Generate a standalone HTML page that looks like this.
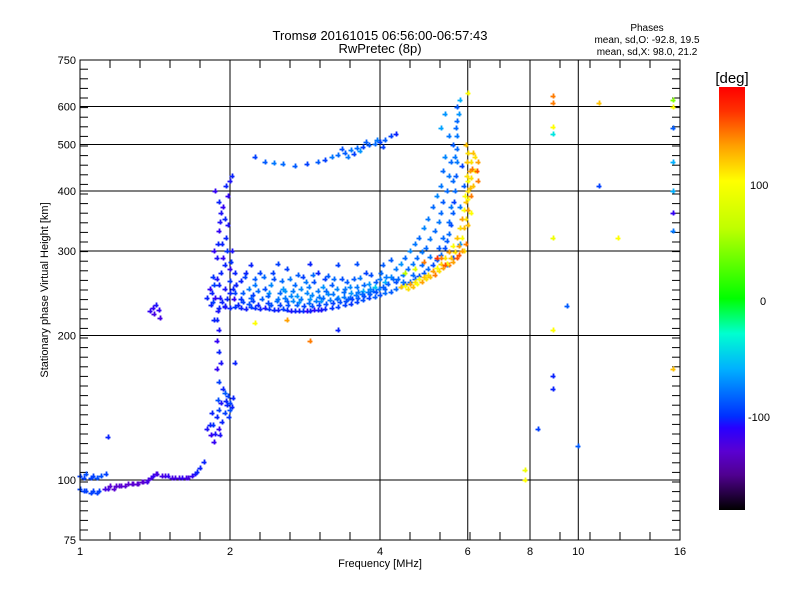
<!DOCTYPE html>
<html><head><meta charset="utf-8"><style>
html,body{margin:0;padding:0;background:#fff}
svg text{font-family:"Liberation Sans",sans-serif;fill:#000}
</style></head><body>
<svg id="chart" width="800" height="600" viewBox="0 0 800 600" xmlns="http://www.w3.org/2000/svg">
<defs>
<linearGradient id="cbar" x1="0" y1="1" x2="0" y2="0">
<stop offset="0" stop-color="#000000"/><stop offset="0.083" stop-color="#500090"/><stop offset="0.139" stop-color="#5a00d2"/><stop offset="0.194" stop-color="#2800ff"/><stop offset="0.222" stop-color="#0030ff"/><stop offset="0.333" stop-color="#00b0ff"/><stop offset="0.417" stop-color="#00ffd0"/><stop offset="0.5" stop-color="#00ff00"/><stop offset="0.667" stop-color="#c0ff00"/><stop offset="0.778" stop-color="#ffff00"/><stop offset="0.861" stop-color="#ffa000"/><stop offset="0.944" stop-color="#ff3000"/><stop offset="1" stop-color="#ff0000"/>
</linearGradient>
</defs>
<g id="grid"></g>
<g id="ticks"></g>
<g id="marks"></g>
<rect x="80" y="60" width="600" height="480" fill="none" stroke="#000" stroke-width="1"/>
<g id="labels"></g>
<text x="380" y="40" font-size="13" text-anchor="middle">Tromsø 20161015 06:56:00-06:57:43</text>
<text x="380" y="53" font-size="13" text-anchor="middle">RwPretec (8p)</text>
<text x="647" y="31" font-size="10" text-anchor="middle">Phases</text>
<text x="647" y="43" font-size="10" text-anchor="middle">mean, sd,O: -92.8, 19.5</text>
<text x="647" y="55" font-size="10" text-anchor="middle">mean, sd,X:  98.0, 21.2</text>
<text x="380" y="567" font-size="11" text-anchor="middle">Frequency [MHz]</text>
<text x="48" y="290" font-size="11" text-anchor="middle" transform="rotate(-90 48 290)">Stationary phase Virtual Height [km]</text>
<rect x="719" y="87" width="26" height="423" fill="url(#cbar)"/>
<text x="732" y="83" font-size="15" text-anchor="middle">[deg]</text>
<text x="750" y="189" font-size="11">100</text>
<text x="760" y="305" font-size="11">0</text>
<text x="748" y="421" font-size="11">-100</text>
</svg>
<script>
const xTicks = [1, 2, 4, 6, 8, 10, 16];
const xGrid = [2, 4, 6, 8, 10];
const yTicks = [75, 100, 200, 300, 400, 500, 600, 750];
const yGrid = [100, 200, 300, 400, 500, 600];
const eLayer = [[1.0,102,-100],[1.02,101,-100],[1.03,103,-95],[1.05,101,-100],[1.06,102,-100],[1.08,101,-95],[1.1,102,-95],[1.13,103,-100],[1.0,96,-100],[1.02,95,-100],[1.03,95,-100],[1.05,94,-100],[1.06,95,-100],[1.08,94,-100],[1.09,95,-100],[1.12,96,-125],[1.14,96,-125],[1.15,97,-130],[1.17,96,-130],[1.18,97,-130],[1.2,97,-130],[1.21,97,-130],[1.23,97,-130],[1.25,98,-130],[1.27,98,-130],[1.28,98,-130],[1.3,98,-130],[1.31,98,-130],[1.33,99,-130],[1.34,99,-130],[1.36,99,-125],[1.37,100,-125],[1.39,101,-125],[1.4,102,-120],[1.42,103,-125],[1.43,103,-125],[1.46,102,-125],[1.48,102,-125],[1.5,102,-120],[1.53,101,-125],[1.55,101,-125],[1.58,101,-125],[1.6,101,-120],[1.63,101,-125],[1.65,101,-125],[1.68,102,-120],[1.7,103,-115],[1.72,104,-110],[1.74,106,-110],[1.77,109,-110],[1.14,123,-110]];
const lowCluster = [[1.85,130,-105],[1.88,135,-110],[1.9,140,-100],[1.92,145,-115],[1.95,138,-100],[1.97,143,-110],[2.0,145,-100],[2.03,148,-110],[1.87,125,-115],[1.9,128,-120],[1.93,132,-110],[1.98,150,-100],[1.82,130,-110],[1.8,128,-115],[1.86,120,-120],[2.0,140,-95],[1.94,155,-110],[1.9,160,-100],[1.84,138,-110],[1.89,147,-95],[1.96,146,-110],[1.99,135,-105],[2.02,142,-110],[1.83,124,-120],[1.91,124,-115],[1.95,152,-90],[1.38,225,-120],[1.41,222,-125],[1.44,226,-120],[1.42,232,-115],[1.45,218,-125],[1.4,228,-120]];
const spreadF = [[1.87,400,-120],[1.9,380,-110],[1.92,360,-115],[1.95,350,-110],[1.9,330,-120],[1.93,310,-110],[1.97,300,-105],[1.88,290,-115],[1.95,280,-110],[2.0,275,-120],[1.85,265,-105],[1.9,255,-110],[1.95,250,-115],[2.0,245,-110],[1.87,240,-120],[1.93,235,-110],[2.0,420,-115],[2.02,430,-110],[1.98,390,-120],[1.86,215,-110],[1.9,205,-115],[1.88,195,-120],[1.9,185,-110],[1.92,175,-115],[1.88,170,-120],[2.05,270,-110],[2.02,300,-115],[1.85,235,-100],[1.8,240,-110],[1.82,250,-120],[1.84,245,-110],[1.86,255,-100],[1.88,262,-115],[1.92,270,-110],[1.94,290,-120],[1.96,320,-110],[1.98,340,-115],[2.0,260,-105],[2.03,250,-110],[1.91,240,-115],[1.97,238,-110],[2.04,238,-120],[1.83,232,-110],[1.89,225,-115],[1.95,230,-110],[1.86,300,-120],[1.89,310,-110],[1.91,345,-115],[1.94,370,-120],[1.96,410,-110],[2.01,285,-105],[2.06,255,-110],[1.88,215,-110]];
const oTrace = [[1.9,228,-110],[1.95,229,-115],[2.0,228,-110],[2.05,229,-105],[2.1,228,-110],[2.15,227,-112],[2.2,229,-100],[2.25,228,-108],[2.3,227,-110],[2.35,228,-115],[2.4,227,-105],[2.45,226,-110],[2.5,226,-112],[2.55,227,-100],[2.6,226,-108],[2.65,225,-115],[2.7,225,-110],[2.75,225,-112],[2.8,225,-105],[2.85,225,-120],[2.9,225,-110],[2.95,226,-118],[3.0,226,-112],[3.05,226,-115],[3.1,227,-110],[3.2,228,-105],[3.3,229,-100],[3.4,231,-100],[3.5,233,-105],[3.6,235,-100],[3.7,237,-95],[3.8,239,-100],[3.9,241,-90],[4.0,243,-95],[4.1,245,-85],[4.2,247,-90],[4.3,250,-85],[4.4,253,-90],[4.5,256,-95],[4.6,259,-85],[4.7,262,-90],[4.8,266,-95],[4.9,270,-90],[5.0,275,-85],[5.1,280,-95],[5.2,287,-90],[5.3,295,-85],[5.4,305,-95],[5.45,315,-90],[5.5,325,-85],[5.55,340,-95],[5.6,360,-90],[5.62,380,-100],[5.65,400,-85],[5.67,430,-90],[5.7,460,-80],[5.7,490,-85],[5.72,520,-80],[5.72,560,-85],[5.7,600,-90]];
const oScatter = [[2.05,245,-100],[2.1,260,-110],[2.2,240,-90],[2.25,255,-80],[2.3,270,-100],[2.4,245,-70],[2.45,262,-95],[2.5,238,-80],[2.55,250,-70],[2.6,275,-100],[2.65,242,-75],[2.7,255,-85],[2.75,235,-70],[2.8,265,-100],[2.85,245,-75],[2.9,238,-70],[2.95,258,-95],[3.0,248,-80],[3.05,236,-70],[3.1,262,-100],[3.15,244,-75],[3.2,255,-90],[3.3,240,-70],[3.35,262,-95],[3.4,250,-80],[3.5,245,-70],[3.55,262,-90],[3.6,252,-80],[3.7,248,-60],[3.75,270,-100],[3.8,256,-70],[3.9,252,-50],[4.0,262,-80],[4.05,280,-90],[4.1,258,-60],[4.2,265,-75],[4.3,275,-80],[4.4,282,-70],[4.5,290,-85],[4.6,300,-75],[4.7,310,-80],[4.8,320,-85],[4.9,335,-75],[5.0,350,-80],[5.1,370,-85],[5.2,390,-75],[5.3,410,-80],[5.35,440,-85],[5.4,470,-75],[5.5,520,-80],[5.4,580,-70],[5.3,540,-65],[2.15,270,-110],[2.35,250,-95],[2.1,238,-105],[2.6,236,-90],[3.0,270,-110],[3.45,238,-90],[4.1,250,-90],[4.3,258,-95],[5.45,280,-80],[5.6,290,-95],[5.8,310,-70],[5.8,370,-80],[5.9,410,-90],[5.85,450,-100]];
const oCloud = [[2.08,232,-110],[2.12,235,-100],[2.18,233,-95],[2.22,236,-100],[2.28,232,-110],[2.32,238,-90],[2.38,234,-100],[2.42,232,-95],[2.48,236,-85],[2.52,231,-100],[2.58,240,-80],[2.62,231,-95],[2.68,236,-75],[2.72,232,-90],[2.78,238,-80],[2.82,230,-100],[2.88,234,-85],[2.92,230,-95],[2.98,236,-80],[3.02,232,-100],[3.08,240,-85],[3.12,233,-95],[3.18,237,-80],[3.22,234,-100],[3.28,238,-85],[3.32,235,-95],[3.38,241,-80],[3.42,236,-95],[3.48,240,-85],[3.52,238,-100],[3.58,243,-80],[3.62,240,-90],[3.68,244,-85],[3.72,242,-95],[3.78,247,-80],[3.82,244,-90],[3.88,248,-85],[3.92,246,-95],[3.98,250,-80],[2.12,245,-90],[2.18,250,-80],[2.22,243,-100],[2.28,248,-85],[2.38,242,-90],[2.42,255,-75],[2.52,245,-85],[2.58,248,-70],[2.68,248,-80],[2.72,242,-70],[2.78,250,-75],[2.88,252,-80],[2.92,243,-75],[3.02,241,-80],[3.08,252,-70],[3.12,248,-85],[3.22,244,-80],[3.28,250,-75],[3.38,246,-85],[3.48,252,-75],[3.62,246,-80],[3.72,255,-85],[3.82,250,-75],[3.92,258,-90],[2.06,255,-110],[2.14,265,-100],[2.24,262,-90],[2.34,265,-85],[2.44,270,-100],[2.54,260,-85],[2.64,262,-80],[2.74,268,-90],[2.84,258,-80],[2.94,268,-85],[3.14,266,-90],[3.24,262,-85],[3.44,258,-90],[3.64,264,-80],[3.84,268,-95],[4.02,270,-85],[4.12,265,-80],[2.2,280,-110],[2.5,282,-100],[2.9,282,-110],[3.3,280,-100],[3.6,282,-95],[4.2,288,-90],[4.35,262,-85],[4.45,268,-80],[4.55,275,-85],[4.65,282,-80],[4.75,290,-85],[4.85,298,-80],[4.95,305,-85],[5.05,318,-80],[5.15,330,-85],[5.25,345,-80],[5.3,360,-85],[5.35,380,-90],[5.45,400,-85],[5.5,430,-80],[5.55,460,-85],[5.6,500,-90],[4.15,256,-90],[4.25,262,-85],[4.05,252,-90],[4.45,258,-80],[4.65,268,-85],[4.85,280,-85],[5.05,292,-80],[5.25,305,-90],[5.35,320,-85],[5.5,345,-85],[5.55,370,-80],[5.6,420,-85],[5.65,470,-80],[5.68,540,-85],[5.75,580,-70],[5.8,620,-60]];
const upperTrace = [[2.25,470,-100],[2.35,460,-90],[2.45,458,-80],[2.55,455,-85],[2.7,452,-90],[2.85,455,-100],[3.0,460,-90],[3.1,465,-100],[3.2,470,-80],[3.3,475,-85],[3.4,480,-90],[3.5,488,-80],[3.6,492,-85],[3.7,495,-100],[3.8,498,-90],[3.9,502,-85],[4.0,505,-100],[4.1,510,-90],[4.2,520,-100],[4.3,525,-110],[3.35,490,-95],[3.55,478,-100],[3.75,505,-90],[3.95,512,-80],[3.45,472,-80],[3.65,485,-70],[4.05,495,-100]];
const xTrace = [[4.4,252,120],[4.5,254,100],[4.6,256,130],[4.7,258,110],[4.8,262,100],[4.9,265,120],[5.0,268,110],[5.1,272,130],[5.2,276,100],[5.3,282,115],[5.4,290,110],[5.5,298,130],[5.6,308,100],[5.7,320,120],[5.8,335,110],[5.85,350,130],[5.9,365,100],[5.95,380,120],[6.0,400,110],[6.0,420,100],[6.05,440,130],[6.1,460,110],[6.15,480,120],[6.2,440,100],[6.3,460,130],[6.3,420,140],[6.1,360,100],[6.0,340,120],[5.7,290,150],[5.5,280,140],[5.2,290,160],[4.9,285,140],[4.7,275,80],[4.5,270,60],[5.9,300,110],[5.95,500,120],[6.0,640,100],[4.55,250,110],[4.65,253,120],[4.75,256,100],[4.85,259,130],[4.95,262,110],[5.05,265,120],[5.15,268,140],[5.25,272,110],[5.35,276,130],[5.45,282,100],[5.55,290,120],[5.65,298,110],[5.75,308,130],[5.85,320,100],[5.9,335,120],[5.95,350,110],[6.0,365,130],[6.02,385,100],[6.05,405,120],[6.08,425,110],[6.12,445,140],[5.95,310,140],[5.85,300,130],[5.75,295,150],[5.6,285,130],[5.4,280,150],[5.3,290,140],[6.1,390,140],[6.15,410,120],[6.2,470,110],[6.25,440,150],[5.97,430,110],[5.92,390,100],[5.98,460,120],[6.02,480,110]];
const noise = [[8.9,630,140],[8.9,610,140],[8.9,545,100],[8.9,525,-40],[8.9,320,90],[8.9,205,100],[8.9,165,-110],[8.9,155,-110],[8.3,128,-100],[9.5,230,-90],[10,118,-90],[7.8,105,90],[7.8,100,100],[11,610,120],[11,410,-100],[12,320,100],[15.5,620,40],[15.5,600,100],[15.5,540,-90],[15.5,460,-60],[15.5,400,-60],[15.5,360,-120],[15.5,330,-80],[15.5,170,120],[2.6,215,130],[3.3,205,-110],[2.9,195,140],[2.05,175,-110],[2.25,212,100]];

const NS='http://www.w3.org/2000/svg';
function xs(f){return 80+600*Math.log(f)/Math.log(16);}
function ys(h){return 540-480*Math.log10(h/75);}
const stops=[[-180,[0,0,0]],[-150,[80,0,144]],[-130,[90,0,210]],[-120,[50,0,245]],[-108,[0,40,255]],[-60,[0,176,255]],[-30,[0,255,208]],[0,[0,255,0]],[60,[192,255,0]],[100,[255,255,0]],[130,[255,160,0]],[160,[255,48,0]],[180,[255,0,0]]];
function color(p){
  for(let i=0;i<stops.length-1;i++){const a=stops[i],b=stops[i+1];
    if(p<=b[0]){const t=Math.max(0,(p-a[0])/(b[0]-a[0]));
      return 'rgb('+a[1].map((c,k)=>Math.round(c+(b[1][k]-c)*t)).join(',')+')';}}
  return 'rgb(255,0,0)';
}
function el(tag,attrs,parent){const e=document.createElementNS(NS,tag);for(const k in attrs)e.setAttribute(k,attrs[k]);parent.appendChild(e);return e;}
const grid=document.getElementById('grid'),ticks=document.getElementById('ticks'),marks=document.getElementById('marks'),labels=document.getElementById('labels');
xGrid.forEach(f=>{const l=el('line',{x1:xs(f),x2:xs(f),y1:60,y2:540,stroke:'#000','stroke-width':1},grid);

});
yGrid.forEach(h=>{const l=el('line',{x1:80,x2:680,y1:ys(h),y2:ys(h),stroke:'#000','stroke-width':1},grid);

});
for(let x=110;x<680;x+=30){el('line',{x1:x,x2:x,y1:60,y2:68,stroke:'#000'},ticks);el('line',{x1:x,x2:x,y1:532,y2:540,stroke:'#000'},ticks);}
for(let y=530;y>60;y-=9.6){el('line',{x1:80,x2:88,y1:y,y2:y,stroke:'#000'},ticks);el('line',{x1:672,x2:680,y1:y,y2:y,stroke:'#000'},ticks);}
xTicks.forEach(f=>{const t=el('text',{x:xs(f),y:555,'font-size':11,'text-anchor':'middle'},labels);t.textContent=f;

});
yTicks.forEach(h=>{const t=el('text',{x:76,y:ys(h)+4,'font-size':11,'text-anchor':'end'},labels);t.textContent=h;

});
[eLayer,lowCluster,spreadF,oScatter,oCloud,oTrace,upperTrace,xTrace,noise].forEach(series=>{
  series.forEach(d=>{const x=Math.round(xs(d[0])),y=Math.round(ys(d[1]));const c=color(d[2]);
    const g=el('path',{d:'M'+(x-2.5)+' '+(y+0.5)+'h5M'+(x+0.5)+' '+(y-2.5)+'v5',stroke:c,'stroke-width':1.8,fill:'none'},marks);
    
    
  });
});
</script>
</body></html>
